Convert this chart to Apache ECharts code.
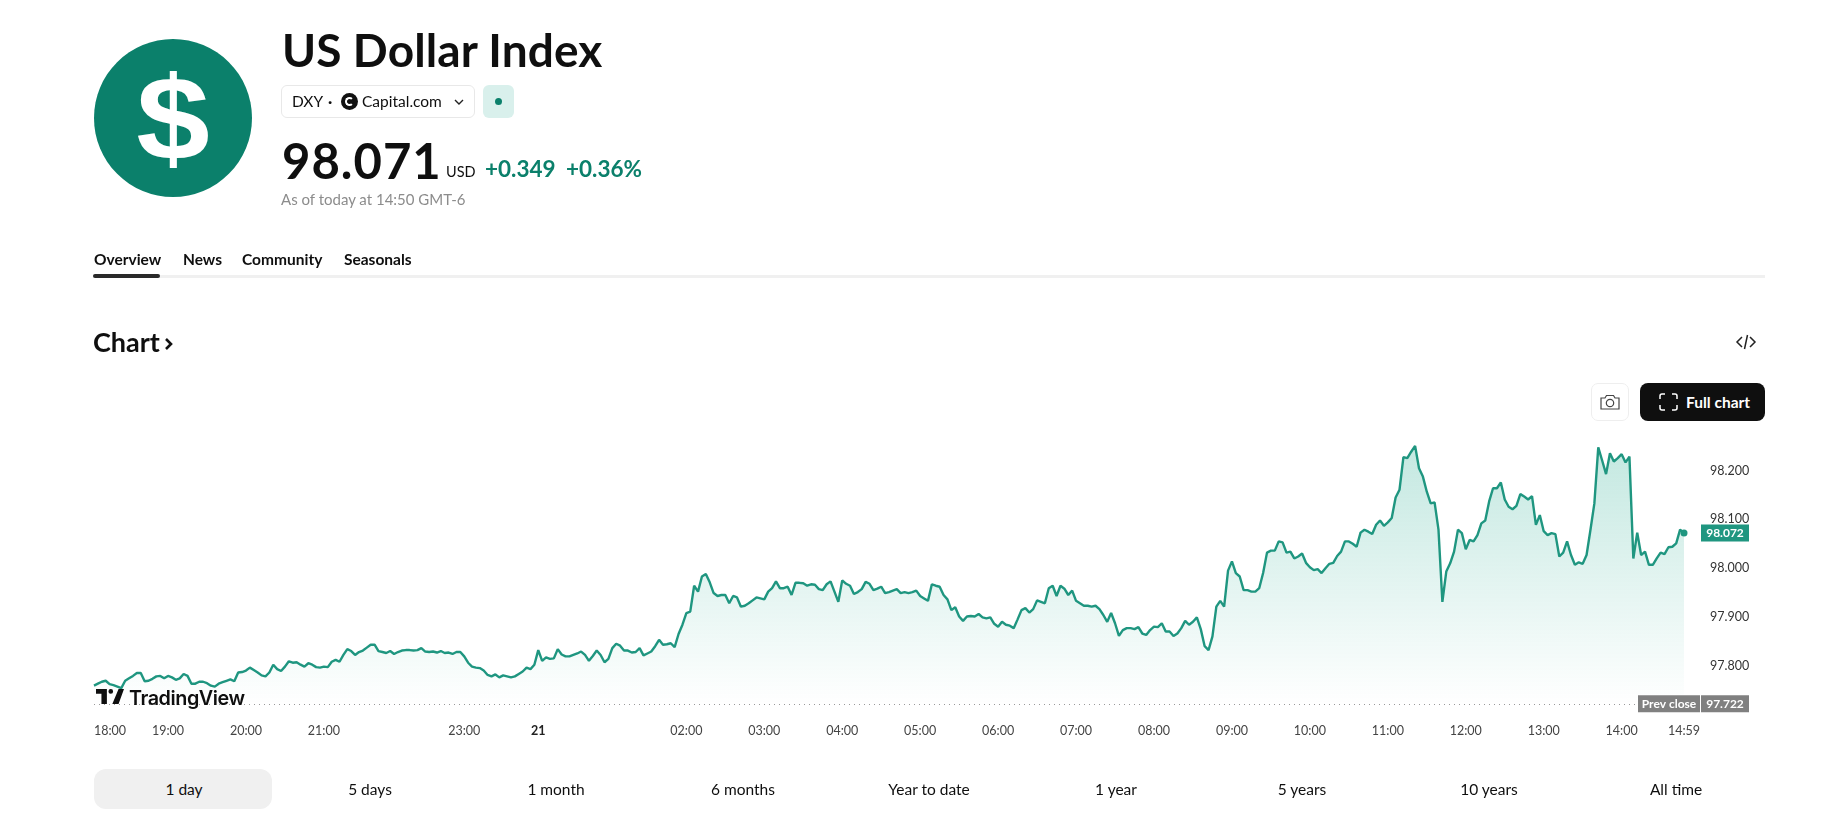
<!DOCTYPE html>
<html><head><meta charset="utf-8"><title>US Dollar Index</title>
<script src="https://cdn.jsdelivr.net/npm/echarts@6/dist/echarts.min.js"></script>
<style>
html,body{margin:0;padding:0;background:#fff;width:1827px;height:820px;overflow:hidden;font-family:"Lato",sans-serif;color:#0f0f0f}
#chart{position:absolute;left:0;top:0;width:1827px;height:820px}
.t{position:absolute;white-space:nowrap;line-height:30px;height:30px}
.b{position:absolute;box-sizing:border-box}
.c{transform:translateX(-50%)}
</style></head><body>
<div id="chart"></div>

<div class="b" style="left:94px;top:39px;width:158px;height:158px;border-radius:50%;background:#0b806b"></div>
<div class="t" style="left:172.5px;top:64px;height:108px;font:bold 118px/108px 'Liberation Sans';color:#fff;transform:translateX(-50%) scaleX(1.12)">$</div>

<div class="t" style="left:282px;top:20px;height:60px;line-height:60px;font-size:46px;font-weight:700;letter-spacing:0.1px">US Dollar Index</div>

<div class="b" style="left:281px;top:85px;width:194px;height:33px;border:1px solid #e8e8e8;border-radius:6px"></div>
<div class="t" style="left:292px;top:86px;font-size:15.5px">DXY</div>
<div class="t" style="left:328px;top:86px;font-size:15.5px;font-weight:700">·</div>
<div class="b" style="left:341px;top:93px;width:17px;height:17px;border-radius:50%;background:#111"></div>
<div class="b" style="left:345px;top:97px;width:9px;height:9px;border-radius:50%;border:2.5px solid #fff;border-right-color:#111"></div>
<div class="t" style="left:362px;top:86px;font-size:15.5px">Capital.com</div>
<svg class="b" style="left:453px;top:97px" width="12" height="10" viewBox="0 0 12 10"><path d="M2 3l4 4 4-4" fill="none" stroke="#222" stroke-width="1.4"/></svg>
<div class="b" style="left:483px;top:85px;width:31px;height:33px;border-radius:6px;background:#d9f0ec"></div>
<div class="b" style="left:495px;top:98px;width:7px;height:7px;border-radius:50%;background:#0b806b"></div>

<div class="t" style="left:282px;top:130px;height:60px;line-height:60px;font-size:49px;font-weight:700;letter-spacing:1px">98.071</div>
<div class="t" style="left:446px;top:157px;font-size:14.5px">USD</div>
<div class="t" style="left:485px;top:154px;font-size:22.5px;font-weight:700;color:#0b806b">+0.349</div>
<div class="t" style="left:566px;top:154px;font-size:22.5px;font-weight:700;color:#0b806b">+0.36%</div>
<div class="t" style="left:281px;top:184px;font-size:15px;color:#8c8c8c">As of today at 14:50 GMT-6</div>

<div class="t" style="left:94px;top:244px;font-size:15.5px;font-weight:700">Overview</div>
<div class="t" style="left:183px;top:244px;font-size:15.5px;font-weight:700">News</div>
<div class="t" style="left:242px;top:244px;font-size:15.5px;font-weight:700">Community</div>
<div class="t" style="left:344px;top:244px;font-size:15.5px;font-weight:700">Seasonals</div>
<div class="b" style="left:93px;top:275px;width:1672px;height:3px;background:#f0f0f0"></div>
<div class="b" style="left:93px;top:274px;width:67px;height:4px;border-radius:2px;background:#2a2a2a"></div>

<div class="t" style="left:93px;top:327px;font-size:27px;font-weight:700">Chart</div>
<svg class="b" style="left:163px;top:336px" width="12" height="16" viewBox="0 0 12 16"><path d="M3 3l5 5-5 5" fill="none" stroke="#111" stroke-width="2.6"/></svg>
<svg class="b" style="left:1735px;top:333px" width="22" height="18" viewBox="0 0 22 18"><path d="M7 4L2 9l5 5M15 4l5 5-5 5M12.5 2L9.5 16" fill="none" stroke="#222" stroke-width="1.5"/></svg>

<div class="b" style="left:1591px;top:383px;width:38px;height:38px;border:1px solid #eee;border-radius:7px"></div>
<svg class="b" style="left:1600px;top:392px" width="20" height="20" viewBox="0 0 20 20"><path d="M1 6h4l1.5-2.5h7L15 6h4v11H1z" fill="none" stroke="#444" stroke-width="1.2"/><circle cx="10" cy="11" r="3.7" fill="none" stroke="#444" stroke-width="1.2"/></svg>
<div class="b" style="left:1640px;top:383px;width:125px;height:38px;border-radius:8px;background:#0f0f0f"></div>
<svg class="b" style="left:1658px;top:392px" width="21" height="20" viewBox="0 0 21 20"><path d="M2 7V4a2 2 0 0 1 2-2h3M14 2h3a2 2 0 0 1 2 2v3M19 13v3a2 2 0 0 1-2 2h-3M7 18H4a2 2 0 0 1-2-2v-3" fill="none" stroke="#fff" stroke-width="1.5"/></svg>
<div class="t" style="left:1686px;top:387px;font-size:15.5px;font-weight:700;color:#fff">Full chart</div>

<svg class="b" style="left:96px;top:689px" width="28" height="15" viewBox="0 0 36 19"><path d="M14 0H0v6h7v13h7zM29 19h-8l8-19h7zM19 6a3 3 0 1 0 0-6 3 3 0 0 0 0 6z" fill="#0f0f0f"/></svg>
<div class="t" style="left:129px;top:683px;font:600 19.8px/30px 'Inter';letter-spacing:-0.45px">TradingView</div>

<div class="b" style="left:94px;top:769px;width:178px;height:40px;border-radius:12px;background:#f0f0f0"></div>
<div class="t c" style="left:184px;top:774px;font-size:15.5px">1 day</div>
<div class="t c" style="left:370px;top:774px;font-size:15.5px">5 days</div>
<div class="t c" style="left:556px;top:774px;font-size:15.5px">1 month</div>
<div class="t c" style="left:743px;top:774px;font-size:15.5px">6 months</div>
<div class="t c" style="left:929px;top:774px;font-size:15.5px">Year to date</div>
<div class="t c" style="left:1116px;top:774px;font-size:15.5px">1 year</div>
<div class="t c" style="left:1302px;top:774px;font-size:15.5px">5 years</div>
<div class="t c" style="left:1489px;top:774px;font-size:15.5px">10 years</div>
<div class="t c" style="left:1676px;top:774px;font-size:15.5px">All time</div>

<script>
// Price readings per session block (one reading about every 3 minutes)
const b18 = [97.759,97.763,97.767,97.769,97.762,97.760,97.757,97.754,97.769,97.774,97.779,97.785,97.785,97.768,97.769,97.773,97.778,97.779,97.774];
const b19 = [97.779,97.776,97.771,97.774,97.783,97.779,97.763,97.763,97.767,97.767,97.764,97.759,97.757,97.763,97.766,97.769,97.772,97.768,97.786,97.787];
const b20 = [97.790,97.796,97.791,97.786,97.780,97.778,97.786,97.802,97.793,97.789,97.798,97.809,97.806,97.807,97.802,97.798,97.805,97.802,97.797,97.796];
const b21 = [97.798,97.797,97.808,97.812,97.808,97.822,97.834,97.830,97.822,97.828,97.831,97.837,97.843,97.843,97.830,97.828,97.826,97.830,97.824,97.828,97.831,97.832,97.832,97.831,97.832,97.836,97.829,97.828,97.829,97.827,97.830,97.826,97.827,97.824,97.828,97.828];
const b23 = [97.819,97.806,97.798,97.796,97.795,97.790,97.781,97.778,97.782,97.776,97.780,97.778,97.776,97.778,97.783,97.788,97.796,97.793,97.802];
const b00 = [97.832,97.810,97.817,97.814,97.815,97.834,97.823,97.819,97.819,97.822,97.825,97.829,97.822,97.810,97.820,97.831,97.822,97.807,97.814,97.836,97.845,97.841,97.831,97.831,97.827,97.828,97.836,97.821,97.825,97.829,97.840,97.853,97.843,97.844,97.846,97.838,97.865,97.884];
const b02 = [97.908,97.911,97.964,97.952,97.983,97.988,97.971,97.949,97.943,97.945,97.945,97.928,97.943,97.940,97.921,97.923,97.928,97.934,97.940,97.938];
const b03 = [97.936,97.952,97.959,97.973,97.959,97.959,97.962,97.945,97.970,97.970,97.969,97.964,97.967,97.966,97.957,97.955,97.967,97.973,97.952,97.931];
const b04 = [97.975,97.968,97.964,97.947,97.951,97.957,97.972,97.968,97.955,97.958,97.962,97.949,97.951,97.954,97.957,97.949,97.951,97.949,97.951,97.954];
const b05 = [97.943,97.938,97.933,97.967,97.964,97.962,97.945,97.936,97.914,97.920,97.901,97.892,97.901,97.902,97.901,97.906,97.899,97.897,97.899,97.886];
const b06 = [97.880,97.890,97.884,97.882,97.877,97.895,97.914,97.918,97.909,97.916,97.934,97.931,97.928,97.959,97.964,97.943,97.964,97.958,97.945,97.954];
const b07 = [97.933,97.928,97.923,97.923,97.921,97.923,97.916,97.904,97.890,97.908,97.887,97.861,97.873,97.877,97.877,97.875,97.879,97.866,97.863,97.873];
const b08 = [97.880,97.879,97.887,97.870,97.870,97.861,97.866,97.877,97.892,97.884,97.890,97.899,97.875,97.840,97.832,97.860,97.921,97.933,97.921,97.995];
const b09 = [98.014,97.990,97.983,97.955,97.955,97.952,97.952,97.959,97.990,98.032,98.036,98.036,98.055,98.053,98.032,98.034,98.020,98.024,98.030,98.011];
const b10 = [98.002,97.996,97.998,97.990,98.000,98.009,98.011,98.025,98.034,98.055,98.055,98.050,98.044,98.073,98.079,98.075,98.070,98.089,98.098,98.087];
const b11 = [98.094,98.103,98.145,98.161,98.228,98.226,98.239,98.251,98.205,98.188,98.157,98.133,98.135,98.079,97.931,97.993,98.010,98.034,98.079,98.072];
const b12 = [98.039,98.058,98.055,98.068,98.092,98.098,98.137,98.164,98.164,98.176,98.141,98.126,98.121,98.128,98.152,98.147,98.141,98.148,98.089,98.109];
const b13 = [98.076,98.068,98.072,98.070,98.024,98.032,98.055,98.027,98.007,98.012,98.009,98.027,98.079,98.133,98.248,98.221,98.193,98.236,98.219,98.226];
const b14 = [98.234,98.217,98.229,98.020,98.073,98.027,98.034,98.007,98.007,98.020,98.032,98.029,98.043,98.044,98.051,98.079,98.072];

const blockLabels = ['18:00','19:00','20:00','21:00','23:00','21','02:00','03:00','04:00','05:00','06:00','07:00','08:00','09:00','10:00','11:00','12:00','13:00','14:00'];
const blocks = [b18,b19,b20,b21,b23,b00,b02,b03,b04,b05,b06,b07,b08,b09,b10,b11,b12,b13,b14];
const yTicks = [97.8,97.9,98.0,98.1,98.2];
const lastTickLabel = '14:59';
const lastPrice = 98.072;
const prevClose = 97.722;

const categories = [], values = [];
blocks.forEach((arr, k) => arr.forEach((v, j) => {
  categories.push(j === 0 ? blockLabels[k] : blockLabels[k] + '+' + (j * 3) + 'm');
  values.push(v);
}));
categories[categories.length - 1] = lastTickLabel;
const tickLabels = blockLabels.concat([lastTickLabel]);
const lastCat = categories[categories.length - 1];
const green = '#1f9680';

const chart = echarts.init(document.getElementById('chart'), null, {renderer:'canvas', width:1827, height:820});
const tag = (coord, text, w, dx, color) => ({
  coord, symbol:'rect', symbolSize:[w,17], symbolOffset:[dx,0],
  itemStyle:{color, borderWidth:0},
  label:{show:true, position:'inside', formatter:text, color:'#fff', fontSize:12, fontWeight:700, fontFamily:'Lato'}
});
chart.setOption({
  animation:false,
  grid:{left:94, right:143, top:422, bottom:105.6, containLabel:false},
  xAxis:{type:'category', data:categories, boundaryGap:false,
    axisLine:{show:false}, axisTick:{show:false}, splitLine:{show:false},
    axisLabel:{
      interval:(i, v) => tickLabels.includes(v),
      alignMinLabel:'left', showMinLabel:true, showMaxLabel:true, hideOverlap:false,
      margin:10, fontSize:12.5, color:'#444', fontFamily:'Lato',
      formatter:v => v === '21' ? '{b|21}' : v,
      rich:{b:{fontWeight:'bold', fontSize:12.5, color:'#222', fontFamily:'Lato'}}
    }},
  yAxis:{type:'value', position:'right', min:97.7, max:98.3, interval:0.1, scale:true,
    axisLine:{show:false}, axisTick:{show:false}, splitLine:{show:false},
    axisLabel:{
      customValues:yTicks, margin:26, fontSize:12.5, color:'#333', fontFamily:'Lato',
      padding:[2,0,0,0], formatter:v => v.toFixed(3)
    }},
  series:[{
    type:'line', data:values, showSymbol:false, smooth:false, sampling:null, z:3,
    lineStyle:{color:green, width:2.4},
    areaStyle:{origin:prevClose, color:new echarts.graphic.LinearGradient(0,0,0,1,[
      {offset:0,color:'rgba(20,165,135,0.36)'},{offset:1,color:'rgba(20,165,135,0.0)'}])},
    markLine:{silent:true, symbol:'none', z:2, label:{show:false},
      lineStyle:{color:'#9a9a9a', type:[1,4], width:1},
      data:[{yAxis:prevClose}]},
    markPoint:{silent:true, z:6, data:[
      {coord:[lastCat,lastPrice], symbol:'circle', symbolSize:7, itemStyle:{color:green}, label:{show:false}},
      tag([lastCat,lastPrice], String(lastPrice.toFixed(3)), 48, 41, '#1f9680'),
      tag([lastCat,prevClose], 'Prev close', 62, -15, '#808080'),
      tag([lastCat,prevClose], prevClose.toFixed(3), 48, 41, '#808080')
    ]}
  }]
});
</script>
</body></html>
